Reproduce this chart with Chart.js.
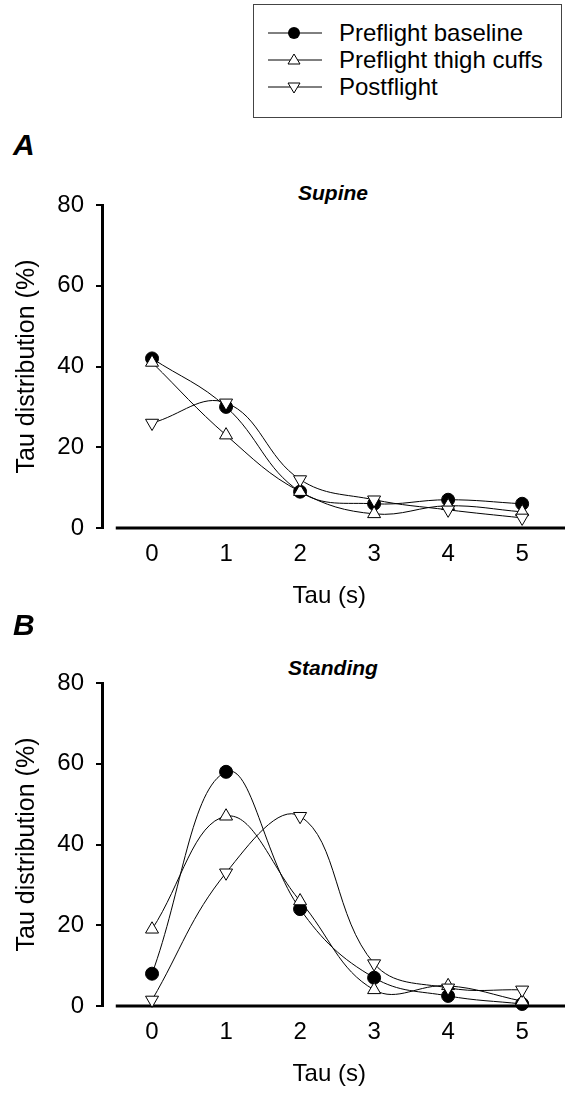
<!DOCTYPE html>
<html>
<head>
<meta charset="utf-8">
<script src="https://cdn.jsdelivr.net/npm/chart.js@4.4.1/dist/chart.umd.min.js"></script>
<style>
  html, body { margin: 0; padding: 0; background: #fff; overflow: hidden; }
  body { width: 565px; height: 1093px; position: relative; font-family: "Liberation Sans", Arial, sans-serif; color: #000; }
  .panel { position: absolute; left: 0; width: 565px; height: 445px; }
  .letter { position: absolute; left: 13px; font-size: 30px; line-height: 30px; font-weight: bold; font-style: italic; }
  .title { position: absolute; left: 333px; transform: translateX(-50%); font-size: 21px; line-height: 21px; font-weight: bold; font-style: italic; }
  #legend { position: absolute; left: 253px; top: 4px; width: 309px; height: 114px; border: 1px solid #444; box-sizing: border-box; padding-top: 14px; }
  .row { display: flex; align-items: center; height: 27px; font-size: 24px; }
  .row svg { margin-left: 13px; margin-right: 16px; }
</style>
</head>
<body>
<div id="legend"></div>

<div class="letter" style="top:130px">A</div>
<div class="title" style="top:182px">Supine</div>
<div class="panel" style="top:170px"><canvas id="supine-chart"></canvas></div>

<div class="letter" style="top:610px">B</div>
<div class="title" style="top:657px">Standing</div>
<div class="panel" style="top:648px"><canvas id="standing-chart"></canvas></div>

<script>
// Tau distribution, supine vs standing
const tauSeconds = [0, 1, 2, 3, 4, 5];
const yTickValues = [0, 20, 40, 60, 80];
const seriesNames = ['Preflight baseline', 'Preflight thigh cuffs', 'Postflight'];

const supineBaseline = [42, 30, 9, 6, 7, 6];
const supineThighCuffs = [41, 23, 9, 3.5, 5.5, 4];
const supinePostflight = [26, 31, 12, 7, 4.5, 2.5];

const standingBaseline = [8, 58, 24, 7, 2.5, 0.5];
const standingThighCuffs = [19, 47, 26, 4, 5, 1.2];
const standingPostflight = [1.5, 33, 47, 10.5, 4.5, 4];

const xMin = -0.676;
const xMax = 5.464;
const xLineStart = -0.49;

const markerStyles = [
  { pointStyle: 'circle', radius: 6.5, fill: '#000', rotation: 0, order: 3 },
  { pointStyle: 'triangle', radius: 7.5, fill: '#fff', rotation: 0, order: 2 },
  { pointStyle: 'triangle', radius: 7.5, fill: '#fff', rotation: 180, order: 1 }
];

document.addEventListener('DOMContentLoaded', () => {
  buildLegend();
  renderPanel('supine-chart', [supineBaseline, supineThighCuffs, supinePostflight]);
  renderPanel('standing-chart', [standingBaseline, standingThighCuffs, standingPostflight]);
});

function buildLegend() {
  const legend = document.getElementById('legend');
  seriesNames.forEach((name, i) => {
    const m = markerStyles[i];
    let marker;
    if (m.pointStyle === 'circle') {
      marker = '<circle cx="27" cy="10" r="6" fill="#000"/>';
    } else if (m.rotation === 0) {
      marker = '<polygon points="27,4 33,14 21,14" fill="#fff" stroke="#000" stroke-width="1"/>';
    } else {
      marker = '<polygon points="27,16 33,6 21,6" fill="#fff" stroke="#000" stroke-width="1"/>';
    }
    const row = document.createElement('div');
    row.className = 'row';
    row.innerHTML = `<svg width="56" height="20"><line x1="1" y1="10" x2="55" y2="10" stroke="#000" stroke-width="1"/>${marker}</svg><span>${name}</span>`;
    legend.appendChild(row);
  });
}

const xAxisLine = {
  id: 'xAxisLine',
  beforeDatasetsDraw(chart) {
    const { ctx, scales: { x, y } } = chart;
    const py = y.getPixelForValue(0);
    ctx.save();
    ctx.strokeStyle = '#000';
    ctx.lineWidth = 3;
    ctx.beginPath();
    ctx.moveTo(x.getPixelForValue(xLineStart), py);
    ctx.lineTo(chart.width, py);
    ctx.stroke();
    ctx.restore();
  }
};

function renderPanel(canvasId, seriesList) {
  const ctx = document.getElementById(canvasId);
  if (!ctx) return;

  const datasets = seriesList.map((values, i) => {
    const m = markerStyles[i];
    return {
      label: seriesNames[i],
      data: tauSeconds.map((t, j) => ({ x: t, y: values[j] })),
      borderColor: '#000',
      borderWidth: 1,
      tension: 0.4,
      pointStyle: m.pointStyle,
      pointRadius: m.radius,
      pointRotation: m.rotation,
      pointBackgroundColor: m.fill,
      pointBorderColor: '#000',
      pointBorderWidth: 1,
      order: m.order,
      clip: false
    };
  });

  return new Chart(ctx, {
    type: 'line',
    data: { datasets },
    plugins: [xAxisLine],
    options: {
      responsive: true,
      maintainAspectRatio: false,
      animation: false,
      events: [],
      layout: { padding: { top: 35, left: 0, right: 0, bottom: 0 } },
      plugins: {
        legend: { display: false },
        tooltip: { enabled: false }
      },
      scales: {
        x: {
          type: 'linear',
          min: xMin,
          max: xMax,
          afterBuildTicks: (scale) => { scale.ticks = tauSeconds.map((v) => ({ value: v })); },
          afterFit: (scale) => { scale.height = 87; },
          grid: { display: false, drawTicks: false },
          border: { display: false },
          ticks: {
            color: '#000',
            padding: 12,
            maxRotation: 0,
            font: { family: 'Liberation Sans', size: 24 }
          },
          title: {
            display: true,
            text: 'Tau (s)',
            color: '#000',
            padding: { top: 0, bottom: 4 },
            font: { family: 'Liberation Sans', size: 24 }
          }
        },
        y: {
          min: 0,
          max: 80,
          afterBuildTicks: (scale) => { scale.ticks = yTickValues.map((v) => ({ value: v })); },
          afterFit: (scale) => { scale.width = 102; },
          grid: {
            drawOnChartArea: false,
            drawTicks: true,
            tickLength: 6,
            color: '#000',
            lineWidth: 2
          },
          border: { display: true, color: '#000', width: 3 },
          ticks: {
            color: '#000',
            padding: 12,
            font: { family: 'Liberation Sans', size: 24 }
          },
          title: {
            display: true,
            text: 'Tau distribution (%)',
            color: '#000',
            padding: { top: 12, bottom: 0 },
            font: { family: 'Liberation Sans', size: 25 }
          }
        }
      }
    }
  });
}
</script>
</body>
</html>
